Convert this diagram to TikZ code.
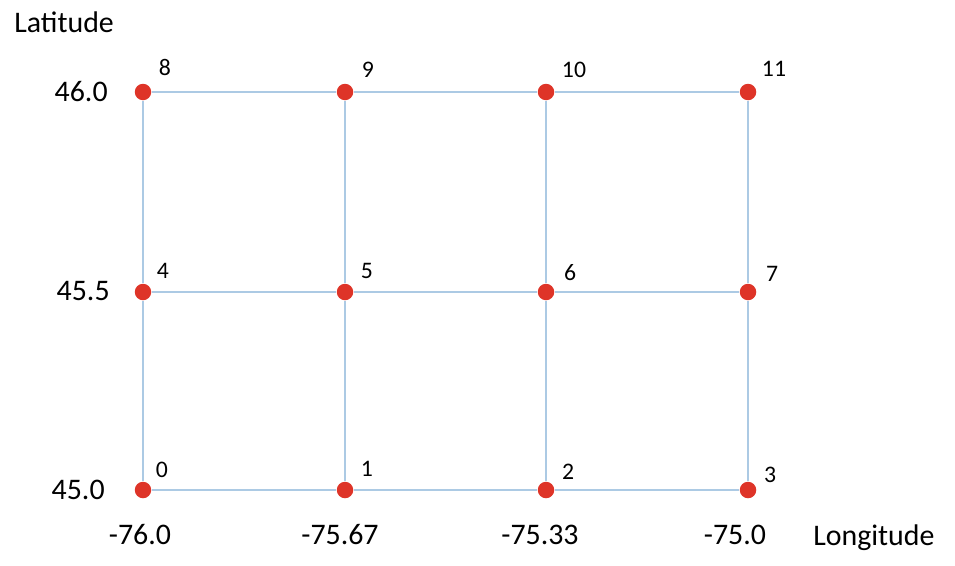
\documentclass[tikz,border=0pt]{standalone}
\usepackage{fontspec}
\setmainfont{Carlito}
\usetikzlibrary{positioning,calc}
\definecolor{gridblue}{RGB}{172,202,228}
\definecolor{dotred}{RGB}{222,52,40}

\begin{document}
\begin{tikzpicture}[
    x=0.02cm, y=-0.02cm,
    font=\fontsize{17}{20}\selectfont,
    dot/.style={circle, fill=dotred, inner sep=0pt, minimum size=0.33cm},
    num/.style={font=\fontsize{13.5}{16}\selectfont, inner sep=0pt},
    axis/.style={inner sep=0pt, anchor=base},
    edge/.style={draw=gridblue, line width=1.1pt}
]
\useasboundingbox (0,0) rectangle (955,565);

% Grid points
\node[dot] (p0) at (143,490) {};
\node[dot] (p1) at (345,490) {};
\node[dot] (p2) at (546,490) {};
\node[dot] (p3) at (748,490) {};
\node[dot] (p4) at (143,292) {};
\node[dot] (p5) at (345,292) {};
\node[dot] (p6) at (546,292) {};
\node[dot] (p7) at (748,292) {};
\node[dot] (p8) at (143,92) {};
\node[dot] (p9) at (345,92) {};
\node[dot] (p10) at (546,92) {};
\node[dot] (p11) at (748,92) {};

% Grid lines
\draw[edge] (p0) -- (p1) -- (p2) -- (p3);
\draw[edge] (p4) -- (p5) -- (p6) -- (p7);
\draw[edge] (p8) -- (p9) -- (p10) -- (p11);
\draw[edge] (p0) -- (p4) -- (p8);
\draw[edge] (p1) -- (p5) -- (p9);
\draw[edge] (p2) -- (p6) -- (p10);
\draw[edge] (p3) -- (p7) -- (p11);

% Point numbers
\node[num] (n0) at (162,470) {0};
\node[num] (n1) at (367,469) {1};
\node[num] (n2) at (568,472) {2};
\node[num] (n3) at (770,475) {3};
\node[num] (n4) at (163,271) {4};
\node[num] (n5) at (367,271) {5};
\node[num] (n6) at (570,273) {6};
\node[num] (n7) at (772,274) {7};
\node[num] (n8) at (165,67) {8};
\node[num] (n9) at (368,70) {9};
\node[num] (n10) at (574,70) {10};
\node[num] (n11) at (774,69) {11};

% Axis values
\node[axis, anchor=base east] (lat2) at (108,101) {46.0};
\node[axis, anchor=base east] (lat1) at (110,300) {45.5};
\node[axis, anchor=base east] (lat0) at (105,499) {45.0};
\node[axis] (lon0) at (140,544) {-76.0};
\node[axis] (lon1) at (340,544) {-75.67};
\node[axis] (lon2) at (540,544) {-75.33};
\node[axis] (lon3) at (735,544) {-75.0};

% Axis titles
\node[axis, anchor=base west] (lattitle) at (14,32) {Latitude};
\node[axis, anchor=base west] (lontitle) at (813,545) {Longitude};

\end{tikzpicture}
\end{document}
